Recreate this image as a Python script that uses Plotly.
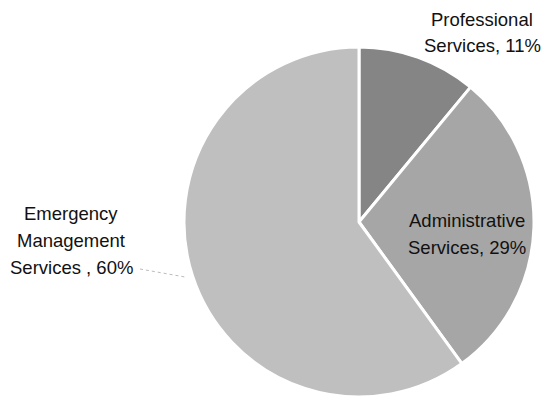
import plotly.graph_objects as go

labels = ["Professional Services", "Administrative Services", "Emergency Management Services"]
values = [11, 29, 60]
colors = ["#858585", "#a6a6a6", "#bfbfbf"]
label_lines = [["Professional", "Services, 11%"],
               ["Administrative", "Services, 29%"],
               ["Emergency", "Management", "Services , 60%"]]
label_pos = [(482, 19), (467, 220), (71, 213)]  # centre x, first line y (px)
line_gap = 27

W, H = 545, 404
fig = go.Figure(go.Pie(
    labels=labels, values=values, sort=False, direction="clockwise", rotation=0,
    marker=dict(colors=colors, line=dict(color="white", width=3)),
    textinfo="none", hoverinfo="label+percent", showlegend=False,
    domain=dict(x=[184 / W, 534 / W], y=[1 - 397 / H, 1 - 47 / H]),
))

font = dict(family="Liberation Sans, Arial, sans-serif", size=18.5, color="#111111")
for lines, (cx, cy) in zip(label_lines, label_pos):
    for i, t in enumerate(lines):
        fig.add_annotation(x=cx / W, y=1 - (cy + i * line_gap) / H, xref="paper", yref="paper",
                           text=t, showarrow=False, font=font, xanchor="center", yanchor="middle")

fig.add_shape(type="line", xref="paper", yref="paper", x0=140 / W, y0=1 - 269 / H, x1=185 / W, y1=1 - 277 / H,
              line=dict(color="#bbbbbb", width=1, dash="dot"))

fig.update_layout(width=W, height=H, margin=dict(l=0, r=0, t=0, b=0),
                  paper_bgcolor="white", plot_bgcolor="white")
fig.write_html("out.html", config={"displayModeBar": False},
               post_script="document.body.style.margin='0';document.body.style.overflow='hidden';")
